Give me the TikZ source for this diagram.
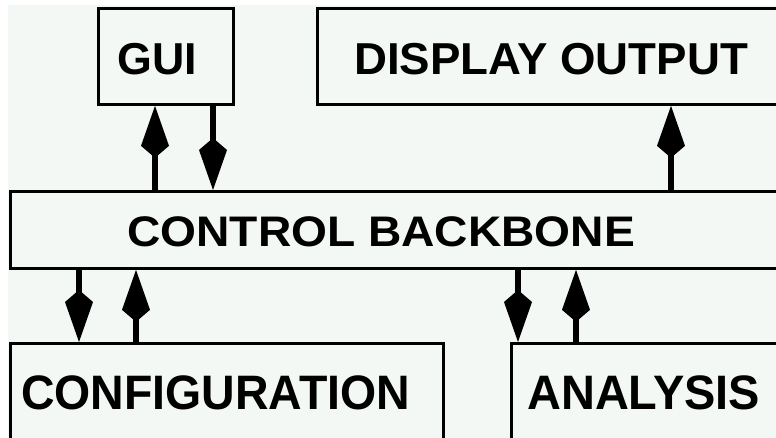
\documentclass[tikz,border=0pt]{standalone}
\usepackage{fontspec}
\setmainfont{Liberation Sans}
\usepackage{graphicx}
\usetikzlibrary{arrows.meta}
\definecolor{Fondo}{HTML}{F4F8F4}

\begin{document}
\begin{tikzpicture}[
    x=0.025cm, y=-0.025cm,
    unit/.style={draw=black,line width=2pt,fill=Fondo,anchor=north west,inner sep=0pt},
    tag/.style={anchor=base west,inner sep=0pt},
    big/.style={font=\bfseries\fontsize{31.8}{36}\selectfont},
    mid/.style={font=\bfseries\fontsize{30.4}{34}\selectfont},
    wide/.style={font=\bfseries\fontsize{34.4}{38}\selectfont},
    link/.style={line width=4.2pt,-{Kite[length=1.3cm,width=0.7cm,inset=0.3cm]}}
  ]
  \useasboundingbox (0,0) rectangle (776,438);
  \clip (0,0) rectangle (776,438);
  \fill[white] (0,0) rectangle (776,438);
  \fill[Fondo] (8,5) rectangle (776,438);

  % boxes (the right-hand ones run past the edge)
  \node[unit,minimum width=3.375cm,minimum height=2.4cm] (gui) at (97,7) {};
  \node[unit,minimum width=12.1cm,minimum height=2.4cm] (disp) at (316,7) {};
  \node[unit,minimum width=19.8cm,minimum height=1.925cm] (ctrl) at (9,190) {};
  \node[unit,minimum width=10.825cm,minimum height=3cm] (conf) at (9,342) {};
  \node[unit,minimum width=7.5cm,minimum height=3cm] (anal) at (510,342) {};

  % labels
  \node[tag,big] (guitxt) at (117,75) {GUI};
  \node[tag,big] (disptxt) at (354,75) {\scalebox{1.02}[1]{DISPLAY OUTPUT}};
  \node[tag,mid] (ctrltxt) at (127,247) {\scalebox{1.08}[1]{CONTROL BACKBONE}};
  \node[tag,wide] (conftxt) at (21,410) {\scalebox{0.96}[1]{CONFIGURATION}};
  \node[tag,wide] (analtxt) at (527,410) {\scalebox{0.97}[1]{ANALYSIS}};

  % links to and from the backbone
  \draw[link] (ctrl.north -| 155,0) -- (gui.south -| 155,0);
  \draw[link] (gui.south -| 213,0) -- (ctrl.north -| 213,0);
  \draw[link] (ctrl.north -| 671,0) -- (disp.south -| 671,0);
  \draw[link] (ctrl.south -| 79,0) -- (conf.north -| 79,0);
  \draw[link] (conf.north -| 136,0) -- (ctrl.south -| 136,0);
  \draw[link] (ctrl.south -| 518,0) -- (anal.north -| 518,0);
  \draw[link] (anal.north -| 576,0) -- (ctrl.south -| 576,0);
\end{tikzpicture}
\end{document}
